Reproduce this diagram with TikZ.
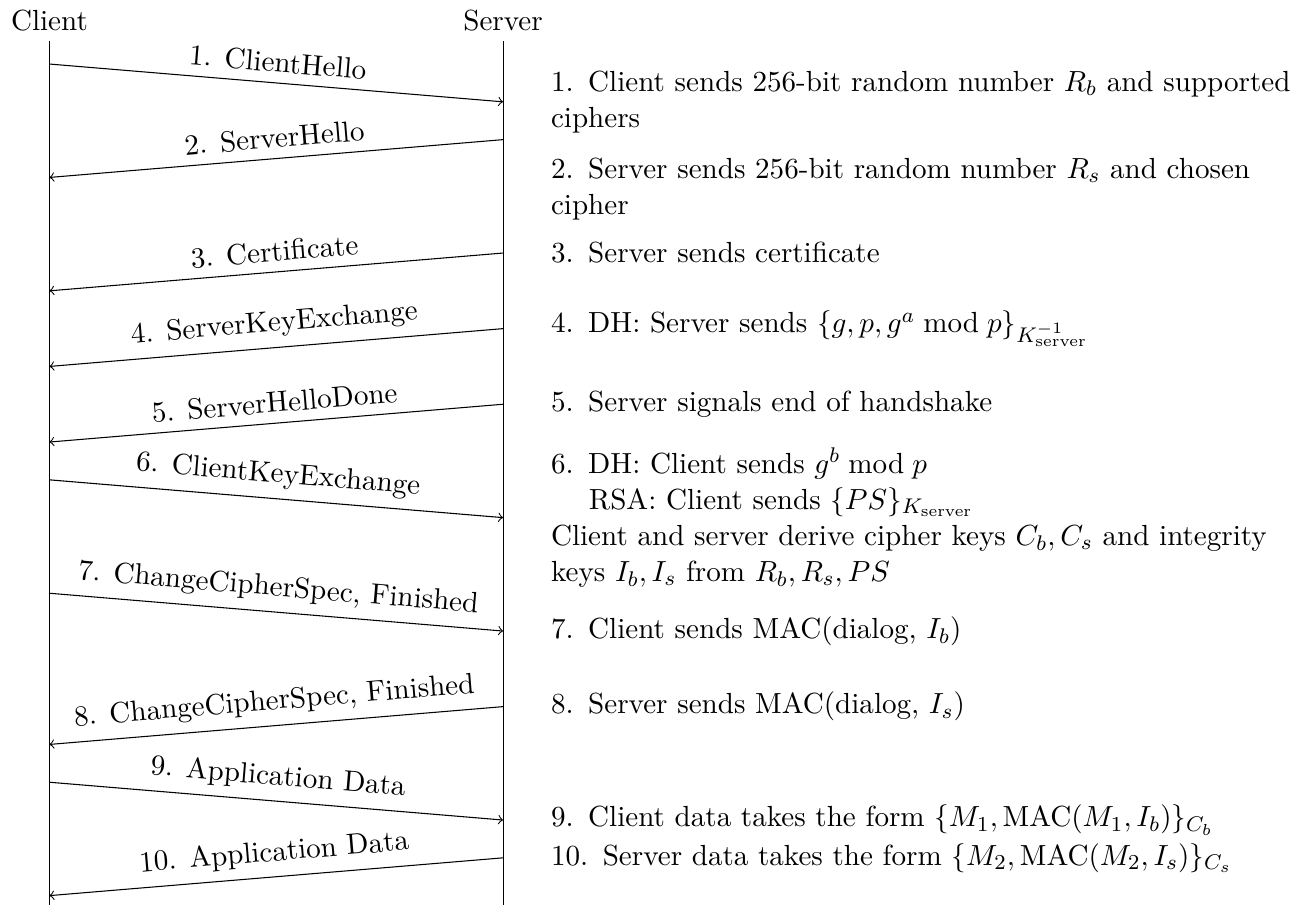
\documentclass[tikz,border=0pt,11pt]{standalone}
\usepackage{amsmath}
\usepackage{amssymb}

\begin{document}
\begin{tikzpicture}[msg/.style={->},
    lbl/.style={midway, above, sloped},
    info/.style={anchor=west, text width=9.9cm, align=left}]
  \useasboundingbox (-0.654,0.847) rectangle (16.595,-11.124);
  \node[above] (client) at (0,0.3) {Client};
  \node[above] (server) at (6,0.3) {Server};
  \coordinate (cbot) at (0,-11.124);
  \coordinate (sbot) at (6,-11.124);
  \draw (client.south) -- (cbot);
  \draw (server.south) -- (sbot);
  % message end points on both lifelines
  \foreach \n/\y in {1/0, 2/-1, 3/-2.5, 4/-3.5, 5/-4.5, 6/-5.5, 7/-7, 8/-8.5, 9/-9.5, 10/-10.5} {
    \coordinate (c\n) at (0,\y);
    \coordinate (s\n) at (6,\y);
    \coordinate (c\n d) at (0,\y-0.5);
    \coordinate (s\n d) at (6,\y-0.5);
  }
  \draw[msg] (c1) -- node[lbl] {1. ClientHello} (s1d);
  \draw[msg] (s2) -- node[lbl] {2. ServerHello} (c2d);
  \draw[msg] (s3) -- node[lbl] {3. Certificate} (c3d);
  \draw[msg] (s4) -- node[lbl] {4. ServerKeyExchange} (c4d);
  \draw[msg] (s5) -- node[lbl] {5. ServerHelloDone} (c5d);
  \draw[msg] (c6) -- node[lbl] {6. ClientKeyExchange} (s6d);
  \draw[msg] (c7) -- node[lbl] {7. ChangeCipherSpec, Finished} (s7d);
  \draw[msg] (s8) -- node[lbl] {8. ChangeCipherSpec, Finished} (c8d);
  \draw[msg] (c9) -- node[lbl] {9. Application Data} (s9d);
  \draw[msg] (s10) -- node[lbl] {10. Application Data} (c10d);
  % explanations
  \node[info] (t1) at (6.5,-0.5) {1. Client sends 256-bit random number $R_b$ and supported ciphers};
  \node[info] (t2) at (6.5,-1.65) {2. Server sends 256-bit random number $R_s$ and chosen cipher};
  \node[info] (t3) at (6.5,-2.5) {3. Server sends certificate};
  \node[info] (t4) at (6.5,-3.5) {4. DH: Server sends $\{g, p, g^a \bmod p\}_{K_{\text{server}}^{-1}}$};
  \node[info] (t5) at (6.5,-4.5) {5. Server signals end of handshake};
  \node[info] (t6) at (6.5,-6) {6. DH: Client sends $g^b \bmod p$\\
    \hspace*{1.3em}RSA: Client sends $\{PS\}_{K_{\text{server}}}$\\
    Client and server derive cipher keys $C_b, C_s$ and integrity keys $I_b, I_s$ from $R_b, R_s, PS$};
  \node[info] (t7) at (6.5,-7.5) {7. Client sends MAC(dialog, $I_b$)};
  \node[info] (t8) at (6.5,-8.5) {8. Server sends MAC(dialog, $I_s$)};
  \node[info] (t9) at (6.5,-10) {9. Client data takes the form $\{M_1, \mathrm{MAC}(M_1, I_b)\}_{C_b}$};
  \node[info] (t10) at (6.5,-10.5) {10. Server data takes the form $\{M_2, \mathrm{MAC}(M_2, I_s)\}_{C_s}$};
\end{tikzpicture}
\end{document}
